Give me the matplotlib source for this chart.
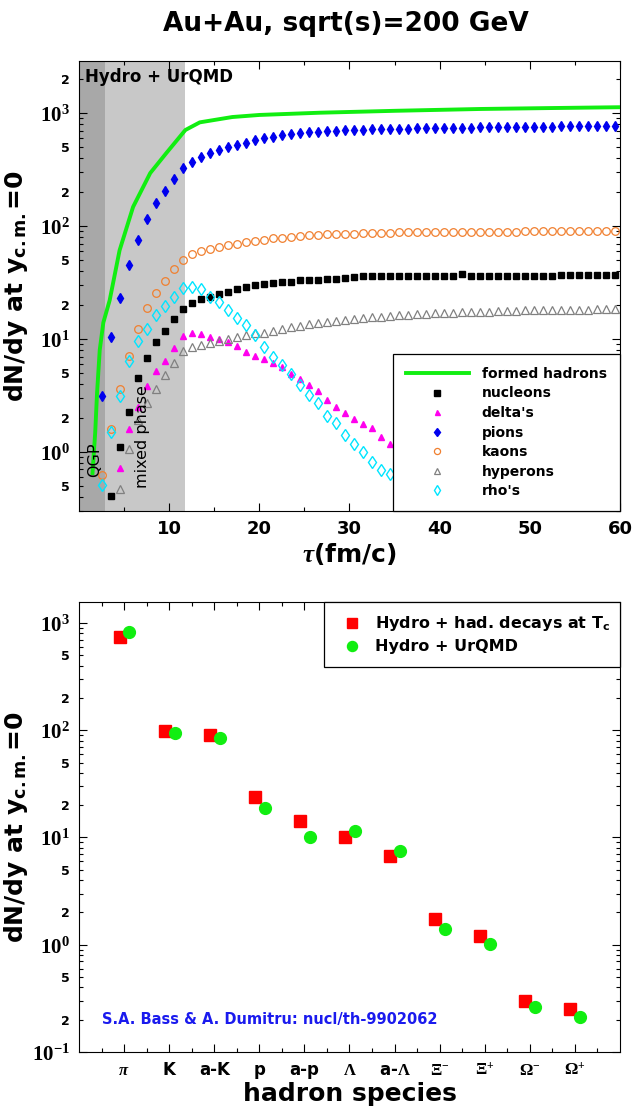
import numpy as np
import matplotlib
matplotlib.use('Agg')
import matplotlib.pyplot as plt

plt.rcParams['font.family'] = ['DejaVu Sans']
plt.rcParams['font.weight'] = 'bold'
plt.rcParams['mathtext.fontset'] = 'custom'
plt.rcParams['mathtext.rm'] = 'Liberation Serif'
plt.rcParams['mathtext.it'] = 'Liberation Serif:italic'
plt.rcParams['mathtext.bf'] = 'Liberation Serif:bold'
plt.rcParams['mathtext.sf'] = 'DejaVu Sans:bold'

# ---- top panel: dN/dy vs proper time (first point of each species, then one per fm/c)
formed_tau = [1.5, 1.8, 2.0, 2.3, 2.7, 3.4, 4.5, 6.0, 7.9, 9.7, 11.8, 13.4, 17.0, 20.0, 26.7, 35.0, 44.5, 52.0, 60.0]
formed_val = [0.65, 1.5, 3.3, 8.0, 14, 22, 61, 148, 295, 445, 710, 830, 925, 965, 1010, 1050, 1090, 1110, 1130]

pion_start = 2.5
pion_val = [3.1, 10.4, 23, 45, 76, 115, 160, 204, 263, 325, 370, 410, 445, 470, 500, 525, 550, 575,
            600, 615, 635, 650, 665, 675, 685, 692, 700, 706, 710, 715, 718, 722, 726, 729, 732, 735,
            737, 739, 741, 743, 745, 746, 748, 750, 752, 754, 756, 758, 760, 761, 762, 764, 765, 766,
            767, 768, 769, 770]

kaon_start = 2.5
kaon_val = [0.63, 1.6, 3.6, 7.1, 12.3, 18.8, 25.6, 32.6, 41.6, 50, 56.6, 60, 63, 65, 68, 70, 72.6, 74,
            76, 78, 79, 80, 82, 83, 84, 84.5, 85, 85.5, 86, 86.5, 87, 87, 87.5, 88, 88, 88.5, 88.5, 89,
            89, 89, 89, 89, 89, 89.5, 89.5, 89.5, 89.5, 90, 90, 90, 90, 90, 90, 90, 90, 90, 90, 90]

nucleon_start = 3.5
nucleon_val = [0.41, 1.1, 2.25, 4.5, 6.8, 9.4, 11.7, 15, 18.5, 21, 22.5, 23.5, 25, 26, 27.5, 29, 30,
               30.8, 31.3, 32, 32.3, 33, 33.3, 33.6, 34, 34.3, 35, 35.5, 35.8, 36, 36, 36, 36.2, 36.2,
               36.3, 36.3, 36.3, 36.3, 36.4, 37.5, 36.4, 36.4, 36.5, 36.5, 36.5, 36.5, 36.5, 36.5,
               36.5, 36.5, 36.6, 36.6, 36.6, 36.6, 36.6, 36.6, 36.6]

hyperon_start = 4.5
hyperon_val = [0.47, 1.06, 1.9, 2.7, 3.6, 4.8, 6.1, 7.8, 8.5, 8.9, 9.3, 9.7, 10, 10.5, 10.8, 11.2, 11.4,
               11.8, 12.3, 12.7, 13.1, 13.5, 13.9, 14.2, 14.5, 14.8, 15.1, 15.4, 15.6, 15.8, 16.0, 16.2,
               16.4, 16.6, 16.8, 16.9, 17.0, 17.1, 17.2, 17.3, 17.4, 17.5, 17.6, 17.7, 17.8, 17.9, 17.9,
               18.0, 18.0, 18.1, 18.1, 18.2, 18.2, 18.3, 18.3, 18.3]

delta_start = 4.5
delta_val = [0.72, 1.6, 2.5, 3.8, 5.2, 6.4, 8.3, 10.6, 11.2, 11.0, 10.5, 10.0, 9.5, 8.7, 7.7, 7.1, 6.6,
             6.1, 5.6, 4.9, 4.4, 3.9, 3.5, 2.9, 2.5, 2.2, 1.96, 1.77, 1.62, 1.37, 1.18]

rho_start = 2.5
rho_val = [0.51, 1.5, 3.1, 6.4, 9.7, 12.2, 16.3, 19.7, 23.4, 28.5, 29, 27.5, 23.7, 21.1, 18.1, 15.5,
           13.2, 10.9, 8.5, 7.0, 5.9, 4.9, 3.9, 3.2, 2.7, 2.1, 1.8, 1.41, 1.18, 1.0, 0.82, 0.69, 0.64]

qgp_end = 2.9
mixed_end = 11.8

# ---- bottom panel: final yields per hadron species
species = [r'$\pi$', 'K', 'a-K', 'p', 'a-p', r'$\Lambda$', r'a-$\Lambda$',
           r'$\Xi^{-}$', r'$\Xi^{+}$', r'$\Omega^{-}$', r'$\Omega^{+}$']
decays_Tc = [747, 98, 91, 23.7, 14.3, 10.1, 6.7, 1.74, 1.2, 0.30, 0.249]
urqmd = [822, 94, 85, 18.7, 10.2, 11.5, 7.5, 1.41, 1.02, 0.26, 0.213]


def taus(start, vals):
    return start + np.arange(len(vals))


def log_ticks(ax, lo, hi, ymin, ymax):
    major = [10.0 ** k for k in range(lo, hi + 1)]
    labels = [r'$\mathbf{10^{%d}}$' % k for k in range(lo, hi + 1)]
    ax.set_yticks(major, labels=labels, fontsize=15)
    minor, mlabels = [], []
    for k in range(lo - 1, hi + 1):
        for m in range(2, 10):
            minor.append(m * 10.0 ** k)
            mlabels.append(str(m) if m in (2, 5) else '')
    ax.set_yticks(minor, labels=mlabels, minor=True, fontsize=9)
    ax.set_ylim(ymin, ymax)  # set after ticks, set_yticks widens the limits
    ax.tick_params(which='both', direction='in', top=True, right=True, pad=6.5)
    ax.tick_params(which='major', length=6, width=0.8)
    ax.tick_params(which='minor', length=3, width=0.8)


fig = plt.figure(figsize=(6.34, 11.07), dpi=100)
ax1 = fig.add_axes([0.1246, 0.5384, 0.8533, 0.4065])
ax2 = fig.add_axes([0.1246, 0.0497, 0.8533, 0.4065])

fig.text(0.545, 0.978, 'Au+Au, sqrt(s)=200 GeV', ha='center', va='center', fontsize=19, fontweight='bold')

# top panel
ax1.axvspan(0, qgp_end, color='#a8a8a8', zorder=0, lw=0)
ax1.axvspan(qgp_end, mixed_end, color='#c8c8c8', zorder=0, lw=0)

ax1.plot(formed_tau, formed_val, color='#11ee11', lw=2.8, label='formed hadrons', zorder=3)
ax1.plot(taus(nucleon_start, nucleon_val), nucleon_val, 's', color='black', ms=5, ls='none', label='nucleons')
ax1.plot(taus(delta_start, delta_val), delta_val, '^', color='#ff00ee', ms=4.5, ls='none', label="delta's")
ax1.plot(taus(pion_start, pion_val), pion_val, 'd', color='#0000ee', ms=5.5, ls='none', label='pions')
ax1.plot(taus(kaon_start, kaon_val), kaon_val, 'o', mfc='none', mec='#f08030', mew=0.9, ms=5.5, ls='none', label='kaons')
ax1.plot(taus(hyperon_start, hyperon_val), hyperon_val, '^', mfc='none', mec='#808080', mew=0.9, ms=5.5, ls='none', label='hyperons')
ax1.plot(taus(rho_start, rho_val), rho_val, 'd', mfc='none', mec='#00e5ff', mew=1.0, ms=6.5, ls='none', label="rho's")

ax1.set_yscale('log')
ax1.set_xlim(0, 60)
log_ticks(ax1, 0, 3, 0.3, 2900)
ax1.set_xticks([10, 20, 30, 40, 50, 60])
ax1.set_xticks([5, 15, 25, 35, 45, 55], minor=True)
ax1.set_xlim(0, 60)
ax1.tick_params(axis='x', labelsize=13)
for lab in ax1.get_xticklabels():
    lab.set_fontweight('bold')
ax1.set_xlabel(r'$\tau$(fm/c)', fontsize=18, fontweight='bold', labelpad=2)
ax1.set_ylabel(r'dN/dy at y$_{\mathsf{c.m.}}$=0', fontsize=18, fontweight='bold')
ax1.yaxis.set_label_coords(-0.09, 0.5)

ax1.text(0.7, 2090, 'Hydro + UrQMD', fontsize=12, fontweight='bold', va='center')
ax1.text(1.7, 0.6, 'QGP', rotation=90, ha='center', va='bottom', fontsize=11.5, fontweight='normal')
ax1.text(7.0, 0.48, 'mixed phase', rotation=90, ha='center', va='bottom', fontsize=11.5, fontweight='normal')

leg1 = ax1.legend(loc='lower left', bbox_to_anchor=(0.58, 0, 0.42, 0.382), mode='expand',
                  borderaxespad=0, fontsize=10, labelspacing=0.4, borderpad=0.92,
                  handlelength=4.6, handletextpad=0.87, markerscale=0.8,
                  fancybox=False, framealpha=1, edgecolor='black')
leg1.get_frame().set_linewidth(0.9)
leg1.set_zorder(5)

# bottom panel
x = np.arange(1, len(species) + 1)
ax2.plot(x - 0.1, decays_Tc, 's', color='#ff0000', ms=9, ls='none', label=r'Hydro + had. decays at T$_{\mathsf{c}}$')
ax2.plot(x + 0.12, urqmd, 'o', color='#11ee11', ms=8.5, ls='none', label='Hydro + UrQMD')
ax2.set_yscale('log')
log_ticks(ax2, -1, 3, 0.1, 1570)
ax2.set_xticks(x, labels=species, fontsize=12)
ax2.set_xticks(np.arange(0.5, 12, 1.0), minor=True)
ax2.set_xlim(0, 12)
for lab in ax2.get_xticklabels():
    lab.set_fontweight('bold')
ax2.set_xlabel('hadron species', fontsize=18, fontweight='bold', labelpad=2)
ax2.set_ylabel(r'dN/dy at y$_{\mathsf{c.m.}}$=0', fontsize=18, fontweight='bold')
ax2.yaxis.set_label_coords(-0.09, 0.5)

ax2.text(0.5, 0.2, 'S.A. Bass & A. Dumitru: nucl/th-9902062', color='#1a1aee', fontsize=10.5,
         fontweight='bold', va='center')

leg2 = ax2.legend(loc='upper left', bbox_to_anchor=(0.453, 0, 0.547, 1.0), mode='expand',
                  borderaxespad=0, fontsize=11.5, labelspacing=0.375, borderpad=0.77,
                  handlelength=2.0, handletextpad=0.4, markerscale=0.85,
                  fancybox=False, framealpha=1, edgecolor='black')
leg2.get_frame().set_linewidth(0.9)

fig.savefig('out.png', dpi=100)
